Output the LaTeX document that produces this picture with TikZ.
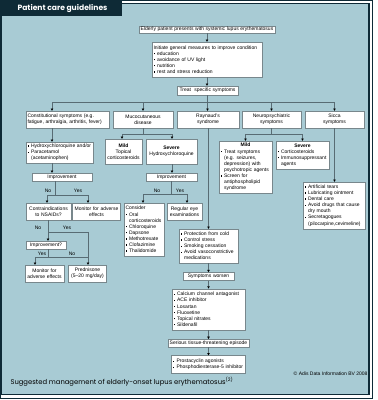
\documentclass[tikz,border=0pt]{standalone}
\usepackage{fontspec}
\setmainfont{Liberation Sans}
\newfontfamily\headfont{Poppins}
\usetikzlibrary{arrows.meta,positioning,shadows}

\definecolor{panelblue}{RGB}{168,203,212}
\definecolor{tabdark}{RGB}{14,42,54}
\definecolor{boxline}{RGB}{120,135,140}
\definecolor{connline}{RGB}{88,108,116}

\newcommand{\bsq}{\makebox[3.6pt][l]{\raisebox{0.9pt}{\rule{1.3pt}{1.3pt}}}}
\newcommand{\indt}{\hspace*{3.6pt}}

\begin{document}
\begin{tikzpicture}[
    x=1pt, y=-1pt,
    node distance=8pt,
    block/.style={
        rectangle,
        draw=boxline,
        fill=white,
        line width=0.4pt,
        inner xsep=1.5pt,
        inner ysep=1pt,
        align=center,
        font=\fontsize{5}{6.1}\selectfont,
        drop shadow={shadow xshift=0.6pt, shadow yshift=-0.6pt, fill=black!35}
    },
    blocklist/.style={
        block,
        align=left
    },
    answer/.style={
        inner sep=0pt,
        font=\fontsize{5}{6}\selectfont
    },
    conn/.style={
        draw=connline,
        line width=0.6pt
    },
    arrow/.style={
        -{Triangle[length=2.3pt, width=2.4pt, color=black]},
        draw=connline,
        line width=0.6pt
    }
]

    \useasboundingbox (0,0) rectangle (378,400);

    % Frame
    \fill[white] (0,0) rectangle (378,400);
    \draw[tabdark, line width=0.6pt] (0.5,0.5) rectangle (372.5,398);
    \fill[panelblue] (1.5,3.5) rectangle (369,394.5);
    \draw[tabdark, line width=0.7pt] (1.5,3.5) rectangle (369,394.5);
    \draw[tabdark, line width=1.6pt] (369,3.5) -- (369,394.5) -- (1.5,394.5);
    \fill[tabdark] (1,1) rectangle (122,16);
    \node (title) [anchor=west, text=white, font=\headfont\bfseries\fontsize{7.6}{8}\selectfont] at (14,8.5) {Patient care guidelines};

    % Nodes
    \node (elderly) [block, text width=133pt, minimum height=7.5pt] at (207,29.5) {Elderly patient presents with systemic lupus erythematosus};
    \node (general) [blocklist, text width=107pt, minimum height=35pt] at (207,59.5) {Initiate general measures to improve condition\\\bsq education\\\bsq avoidance of UV light\\\bsq nutrition\\\bsq rest and stress reduction};
    \node (treat)   [block, text width=58pt, minimum height=9pt] at (207.5,90.5) {Treat\ \ specific symptoms};

    % Symptom groups
    \node (constit) [blocklist, text width=80pt, minimum height=17pt] at (67.5,119.5) {Constitutional symptoms (e.g.\\fatigue, arthralgia, arthritis, fever)};
    \node (muco)    [block, text width=57pt, minimum height=17pt] at (143,119.5) {Mucocutaneous\\disease};
    \node (raynaud) [block, text width=59pt, minimum height=17pt] at (208,119.5) {Raynaud's\\syndrome};
    \node (neuro)   [block, text width=56pt, minimum height=17pt] at (271.5,119.5) {Neuropsychiatric\\symptoms};
    \node (sicca)   [block, text width=56pt, minimum height=17pt] at (334.5,119.5) {Sicca\\symptoms};

    % Constitutional branch
    \node (hcq)      [blocklist, text width=64pt, minimum height=21pt] at (59.5,152.5) {\bsq Hydroxychloroquine and/or\\\bsq Paracetamol\\\indt (acetaminophen)};
    \node (impr1)    [block, text width=57pt, minimum height=8pt] at (62,177) {Improvement};
    \node (contra)   [block, text width=42pt, minimum height=17pt] at (48.5,211.5) {Contraindications\\to NSAIDs?};
    \node (monitor1) [block, text width=45pt, minimum height=17pt] at (96.5,211.5) {Monitor for adverse\\effects};
    \node (impr2)    [block, text width=37pt, minimum height=8pt] at (46,245) {Improvement?};
    \node (monitor2) [block, text width=36pt, minimum height=17pt] at (44.5,273.5) {Monitor for\\adverse effects};
    \node (pred)     [block, text width=35pt, minimum height=17pt] at (87.5,273.5) {Prednisone\\(5--20 mg/day)};

    % Mucocutaneous branch
    \node (mild1)    [block, text width=34pt, minimum height=25pt] at (123.5,151.5) {\textbf{Mild}\\Topical\\corticosteroids};
    \node (severe1)  [block, text width=48pt, minimum height=25pt] at (171.5,151.5) {\textbf{Severe}\\Hydroxychloroquine};
    \node (impr3)    [block, text width=48pt, minimum height=8pt] at (171.5,177) {Improvement};
    \node (consider) [blocklist, text width=37pt, minimum height=53pt] at (144,229.5) {Consider\\\bsq Oral\\\indt corticosteroids\\\bsq Chloroquine\\\bsq Dapsone\\\bsq Methotrexate\\\bsq Clofazimine\\\bsq Thalidomide};
    \node (regular)  [block, text width=32pt, minimum height=17pt] at (184.5,211.5) {Regular eye\\examinations};

    % Raynaud's branch
    \node (protection) [blocklist, text width=56pt, minimum height=34pt] at (208.5,246) {\bsq Protection from cold\\\bsq Control stress\\\bsq Smoking cessation\\\bsq Avoid vasoconstrictive\\\indt medications};
    \node (worsen)     [block, text width=48pt, minimum height=8pt, below=9pt of protection] {Symptoms worsen};
    \node (calcium)    [blocklist, text width=70pt, minimum height=41pt, below=of worsen] {\bsq Calcium channel antagonist\\\bsq ACE inhibitor\\\bsq Losartan\\\bsq Fluoxetine\\\bsq Topical nitrates\\\bsq Sildenafil};
    \node (serious)    [block, text width=78pt, minimum height=8pt, below=9pt of calcium] {Serious tissue-threatening episode};
    \node (prosta)     [blocklist, text width=71pt, minimum height=18pt, below=of serious] {\bsq Prostacyclin agonists\\\bsq Phosphodiesterase-5 inhibitor};

    % Neuropsychiatric and sicca branches
    \node (mild2)     [blocklist, text width=50pt, minimum height=52pt] at (245.5,167) {\makebox[\linewidth]{\textbf{Mild}}\\\bsq Treat symptoms\\\indt (e.g. seizures,\\\indt depression) with\\\indt psychotropic agents\\\bsq Screen for\\\indt antiphospholipid\\\indt syndrome};
    \node (severe2)   [blocklist, text width=50pt, minimum height=28pt] at (302.5,155) {\makebox[\linewidth]{\textbf{Severe}}\\\bsq Corticosteroids\\\bsq Immunosuppressant\\\indt agents};
    \node (siccalist) [blocklist, text width=59pt, minimum height=47pt] at (334,205.5) {\bsq Artificial tears\\\bsq Lubricating ointment\\\bsq Dental care\\\bsq Avoid drugs that cause\\\indt dry mouth\\\bsq Secretagogues\\\indt (pilocarpine,cevimeline)};

    % Arrows: main stem and bus
    \draw [arrow] (elderly) -- (general);
    \draw [arrow] (general.south) -- (general.south |- treat.north);
    \coordinate (busL) at (52,102);
    \coordinate (busR) at (334.5,102);
    \draw [conn] (busL) -- (busR);
    \draw [arrow] (treat.south) -- (treat.south |- raynaud.north);
    \draw [arrow] (busL) -- (constit.north -| busL);
    \draw [arrow] (muco.north |- busL) -- (muco.north);
    \draw [arrow] (neuro.north |- busL) -- (neuro.north);
    \draw [arrow] (busR) -- (sicca.north);

    % Arrows: constitutional
    \draw [arrow] (constit.south -| busL) -- (hcq.north -| busL);
    \draw [arrow] (hcq.south -| busL) -- (impr1.north -| busL);
    \coordinate (c1) at (55,195);
    \coordinate (c1a) at (47,195);
    \coordinate (c1b) at (88,195);
    \draw [conn] (impr1.south -| c1) -- (c1);
    \draw [conn] (c1a) -- (c1b);
    \draw [arrow] (c1a) -- (contra.north -| c1a);
    \draw [arrow] (c1b) -- (monitor1.north -| c1b);
    \node (no1)  [answer] at (48,190.5) {No};
    \node (yes1) [answer] at (78,190.5) {Yes};

    \coordinate (c2) at (48,232);
    \coordinate (c2b) at (88,232);
    \draw [conn] (contra.south -| c2) -- (c2) -- (c2b);
    \draw [arrow] (c2) -- (impr2.north -| c2);
    \draw [arrow] (c2b) -- (pred.north -| c2b);
    \node (no2)  [answer] at (38,228) {No};
    \node (yes2) [answer] at (67,228) {Yes};

    \coordinate (c3) at (48,257);
    \coordinate (c3a) at (35,257);
    \coordinate (c3b) at (88,257);
    \draw [conn] (impr2.south -| c3) -- (c3);
    \draw [conn] (c3a) -- (c3b);
    \draw [arrow] (c3a) -- (monitor2.north -| c3a);
    \node (yes3) [answer] at (42,253.5) {Yes};
    \node (no3)  [answer] at (72,253.5) {No};

    % Arrows: mucocutaneous
    \coordinate (m1) at (143,134);
    \coordinate (m1a) at (122,134);
    \coordinate (m1b) at (172,134);
    \draw [conn] (muco.south) -- (m1);
    \draw [conn] (m1a) -- (m1b);
    \draw [arrow] (m1a) -- (mild1.north -| m1a);
    \draw [arrow] (m1b) -- (severe1.north -| m1b);
    \draw [arrow] (severe1.south -| m1b) -- (impr3.north -| m1b);
    \coordinate (m2) at (171.5,194);
    \coordinate (m2a) at (143,194);
    \coordinate (m2b) at (187,194);
    \draw [conn] (impr3.south) -- (m2);
    \draw [conn] (m2a) -- (m2b);
    \draw [arrow] (m2a) -- (consider.north -| m2a);
    \draw [arrow] (m2b) -- (regular.north -| m2b);
    \node (no4)  [answer] at (157,190.5) {No};
    \node (yes4) [answer] at (180,190.5) {Yes};

    % Arrows: Raynaud's
    \draw [arrow] (raynaud.south -| protection.north) -- (protection.north);
    \draw [arrow] (protection) -- (worsen);
    \draw [arrow] (worsen) -- (calcium);
    \draw [arrow] (calcium) -- (serious);
    \draw [arrow] (serious) -- (prosta);

    % Arrows: neuropsychiatric and sicca
    \coordinate (n1) at (271.5,134);
    \coordinate (n1a) at (245.5,134);
    \coordinate (n1b) at (302.5,134);
    \draw [conn] (neuro.south) -- (n1);
    \draw [conn] (n1a) -- (n1b);
    \draw [arrow] (n1a) -- (mild2.north);
    \draw [arrow] (n1b) -- (severe2.north);
    \draw [arrow] (sicca.south) -- (sicca.south |- siccalist.north);

    % Caption
    \node (copyright) [anchor=east, font=\fontsize{5}{6}\selectfont] at (371,374) {\textcopyright{} Adis Data Information BV 2008};
    \node (caption) [anchor=west, font=\headfont\fontsize{6.8}{8}\selectfont] at (7,382) {Suggested management of elderly-onset lupus erythematosus\textsuperscript{(2)}};

\end{tikzpicture}
\end{document}
